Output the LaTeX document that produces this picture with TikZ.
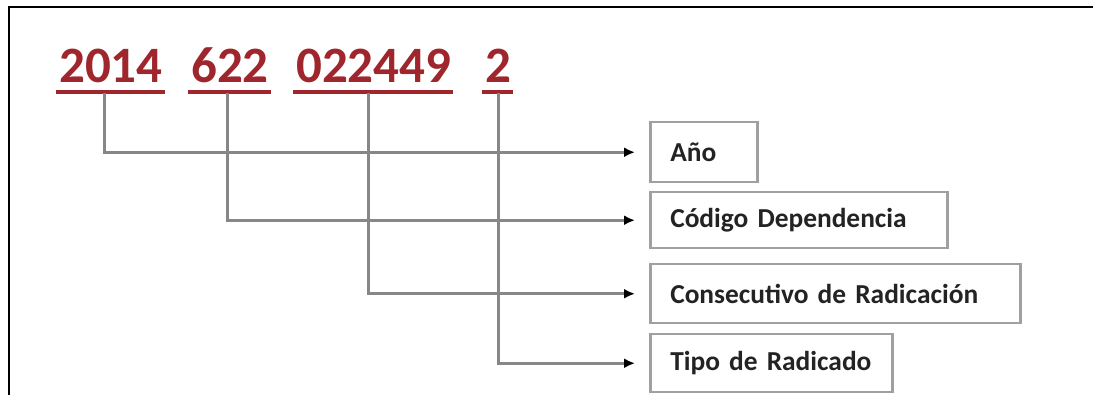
\documentclass[tikz,border=0pt]{standalone}
\usepackage{fontspec}
\setmainfont{Carlito}
\usetikzlibrary{arrows.meta,calc}
\definecolor{numred}{RGB}{158,38,44}
\definecolor{linegray}{RGB}{135,135,135}
\definecolor{boxgray}{RGB}{160,160,160}
\definecolor{txtgray}{RGB}{35,35,35}
\tikzset{
  num/.style={font=\bfseries\fontsize{51}{51}\selectfont, text=numred, inner sep=0pt, anchor=base west},
  uline/.style={draw=numred, line width=3.5pt},
  conn/.style={draw=linegray, line width=3pt, -{Latex[length=11pt,width=10pt,color=black]}, shorten >=14pt},
  fieldbox/.style={draw=boxgray, line width=2.5pt, anchor=north west, inner xsep=20pt, inner ysep=0pt,
    align=left, text=txtgray, font=\bfseries\fontsize{27.4}{28}\selectfont, minimum height=58pt},
}
\begin{document}
\begin{tikzpicture}[x=1pt,y=-1pt]
\useasboundingbox (0,0) rectangle (1093,395);
\fill[white] (0,0) rectangle (1093,395);
% frame
\draw[black, line width=2pt] (9,395) -- (9,7) -- (1093,7);
% numbers
\node[num] (n1) at (59,83) {2014};
\node[num] (n2) at (191,83) {622};
\node[num] (n3) at (296,83) {022449};
\node[num] (n4) at (485,83) {2};
\foreach \n in {n1,n2,n3,n4}{
  \draw[uline] ([xshift=-3pt,yshift=-9pt]\n.base west) -- ([xshift=2pt,yshift=-9pt]\n.base east);
}
\coordinate (c1) at ([xshift=-6pt,yshift=-10pt]n1.base);
\coordinate (c2) at ([xshift=-2pt,yshift=-10pt]n2.base);
\coordinate (c3) at ([xshift=-5pt,yshift=-10pt]n3.base);
\coordinate (c4) at ([xshift=0pt,yshift=-10pt]n4.base);
% boxes
\node[fieldbox, text width=67pt, minimum height=60pt] (b1) at (649,121) {Año};
\node[fieldbox, text width=257pt, minimum height=56pt] (b2) at (649,191) {Código Dependencia};
\node[fieldbox, text width=330pt, minimum height=59pt] (b3) at (649,263) {Consecutivo de Radicación};
\node[fieldbox, text width=202pt, minimum height=58pt] (b4) at (649,333) {Tipo de Radicado};
% connectors
\draw[conn] (c1) |- (b1.west);
\draw[conn] (c2) |- (b2.west);
\draw[conn] (c3) |- (b3.west);
\draw[conn] (c4) |- (b4.west);
\end{tikzpicture}
\end{document}
